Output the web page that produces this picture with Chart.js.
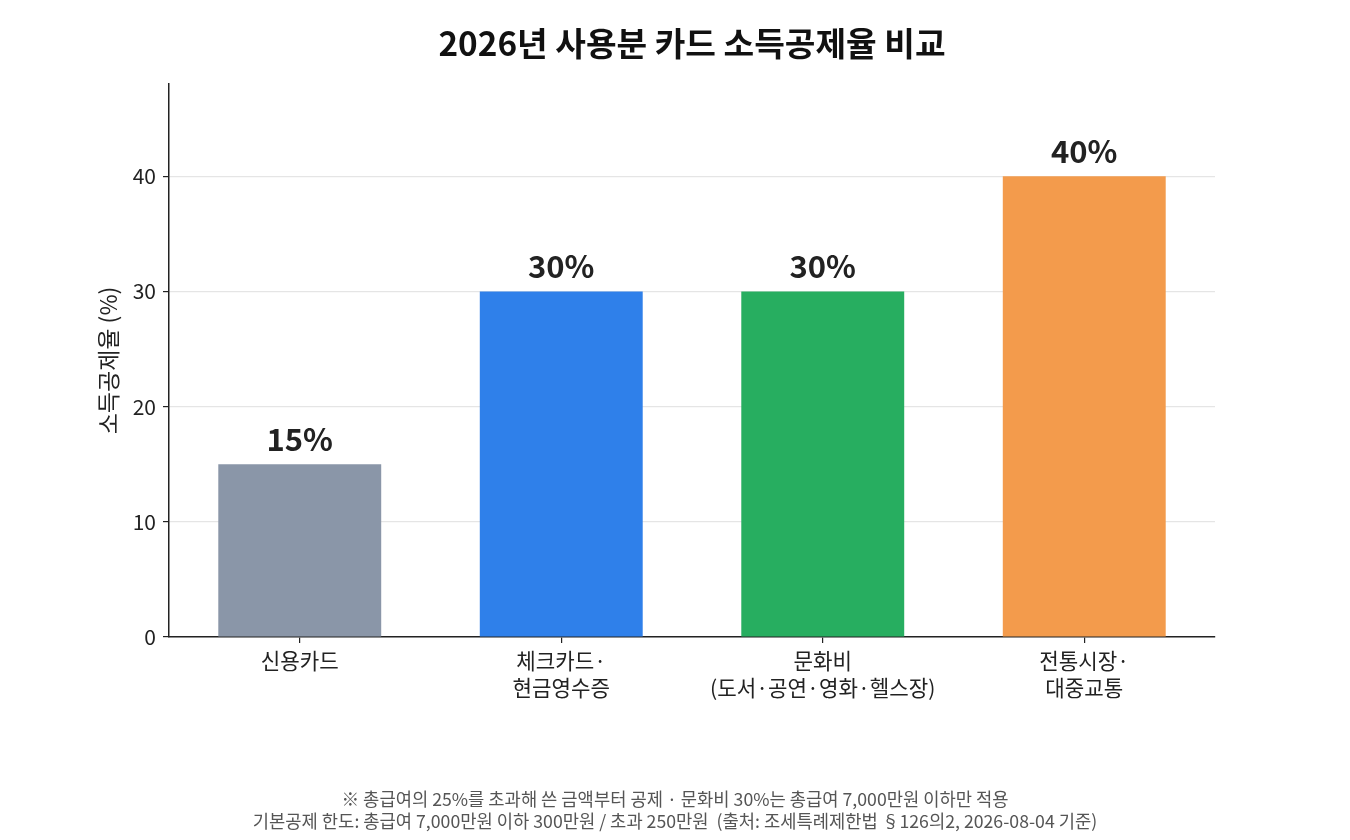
<!DOCTYPE html>
<html><head><meta charset="utf-8">
<script src="https://cdn.jsdelivr.net/npm/chart.js@4"></script>
<style>html,body{margin:0;padding:0;background:#fff}#wrap{width:1350px;height:840px;position:relative}</style>
</head><body><div id="wrap"><canvas id="c" width="1350" height="840"></canvas></div>
<script>
const categories = [['신용카드'], ['체크카드·','현금영수증'], ['문화비','(도서·공연·영화·헬스장)'], ['전통시장·','대중교통']];
const rates = [15, 30, 30, 40];
const barColors = ['#8A96A8', '#2F80EA', '#27AE60', '#F39B4C'];
const yTicks = [0, 10, 20, 30, 40];
const titleText = '2026년 사용분 카드 소득공제율 비교';
const yTitle = '소득공제율 (%)';
const notes = ['※ 총급여의 25%를 초과해 쓴 금액부터 공제 · 문화비 30%는 총급여 7,000만원 이하만 적용',
  '기본공제 한도: 총급여 7,000만원 이하 300만원 / 초과 250만원  (출처: 조세특례제한법 §126의2, 2026-08-04 기준)'];
const FONT = '"Noto Sans CJK KR", "Noto Sans", sans-serif';

const textPlugin = {
  id: 'texts',
  afterDatasetsDraw(chart) {
    const ctx = chart.ctx, a = chart.chartArea;
    ctx.save();
    const meta = chart.getDatasetMeta(0);
    ctx.font = 'bold 31px ' + FONT;
    ctx.fillStyle = '#222';
    ctx.textAlign = 'center';
    ctx.textBaseline = 'alphabetic';
    meta.data.forEach((bar, i) => {
      ctx.fillText(rates[i] + '%', bar.x, bar.y - 13);
    });
    ctx.font = 'bold 33.3px ' + FONT;
    ctx.fillStyle = '#111';
    ctx.textBaseline = 'middle';
    ctx.fillText(titleText, (a.left + a.right) / 2, 43);
    ctx.save();
    ctx.translate(108, (a.top + a.bottom) / 2);
    ctx.rotate(-Math.PI / 2);
    ctx.font = '23px ' + FONT;
    ctx.fillStyle = '#222';
    ctx.fillText(yTitle, 0, 0);
    ctx.restore();
    ctx.font = '17.7px ' + FONT;
    ctx.fillStyle = '#555';
    ctx.fillText(notes[0], 675, 799);
    ctx.fillText(notes[1], 675, 821);
    ctx.restore();
  }
};

new Chart(document.getElementById('c'), {
  type: 'bar',
  data: {
    labels: categories,
    datasets: [{ data: rates, backgroundColor: barColors, borderWidth: 0,
      categoryPercentage: 1, barPercentage: 0.623 }]
  },
  options: {
    responsive: false,
    animation: false,
    devicePixelRatio: 1,
    layout: { padding: { left: 0, right: 135, top: 84, bottom: 123 } },
    plugins: { legend: { display: false }, tooltip: { enabled: false }, title: { display: false } },
    scales: {
      x: {
        afterFit(s) { s.height = 80; },
        grid: { drawOnChartArea: false, drawTicks: true, tickLength: 6, color: '#222', offset: false, lineWidth: 1.2 },
        border: { color: '#222', width: 1.5 },
        ticks: { color: '#222', font: { family: FONT, size: 21.2, lineHeight: 1.25 }, padding: 5, maxRotation: 0, autoSkip: false }
      },
      y: {
        min: 0, max: 48,
        afterFit(s) { s.width = 169; },
        afterBuildTicks(s) { s.ticks = yTicks.map(v => ({ value: v })); },
        grid: { color: '#e5e5e5', lineWidth: 1.2, tickLength: 6, tickColor: '#222' },
        border: { color: '#222', width: 1.5 },
        ticks: { color: '#222', font: { family: FONT, size: 21 }, padding: 7 }
      }
    }
  },
  plugins: [textPlugin]
});
</script></body></html>
